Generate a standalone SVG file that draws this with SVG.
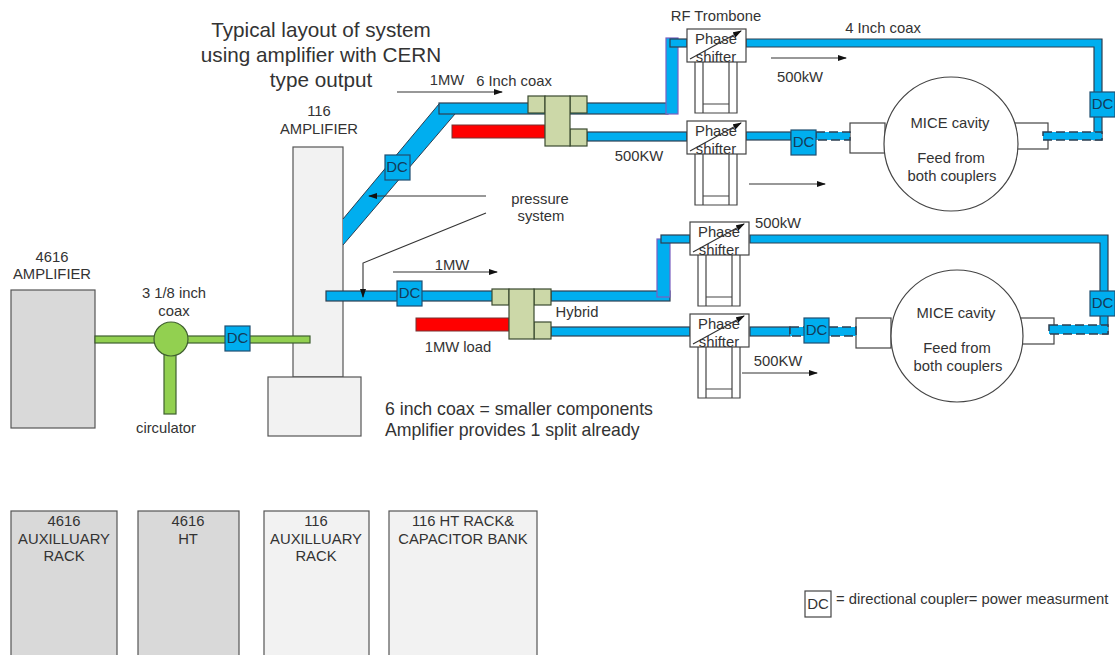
<svg xmlns="http://www.w3.org/2000/svg" xmlns:xlink="http://www.w3.org/1999/xlink" width="1115" height="655" viewBox="0 0 1115 655">
<style>
text{font-family:"Liberation Sans",Arial,sans-serif;font-size:14.800px;fill:#333;text-anchor:middle}
.t{font-size:20.700px}
.l{text-anchor:start}
.box{stroke:#555;stroke-width:1.2}
.d{fill:#d9d9d9}.g{fill:#f2f2f2}
.coax{fill:#00aeef;stroke:#2d3e50;stroke-width:1.2}
.dash{fill:#00aeef;stroke:#2d3e50;stroke-width:1.5;stroke-dasharray:9 4}
.trom{fill:#00aeef;stroke:#7a5fc0;stroke-width:1.2}
.green{fill:#92d050;stroke:#3f5f30;stroke-width:1.2}
.hy{fill:#ccd8a8;stroke:#3a4a30;stroke-width:1.2}
.red{fill:#f00;stroke:#733;stroke-width:1}
.dc{fill:#00aeef;stroke:#1f4e70;stroke-width:1.2}
.w{fill:#fff;stroke:#444;stroke-width:1.2}
.o{fill:none;stroke:#444;stroke-width:1.2}
.a{fill:none;stroke:#333;stroke-width:1.1;marker-end:url(#ah)}
.dct{font-size:15px;fill:#143c5a}
</style>
<defs>
<marker id="ah" markerWidth="9" markerHeight="7" refX="8" refY="3" orient="auto" markerUnits="userSpaceOnUse"><path d="M0 0L9 3L0 6Z" fill="#111"/></marker>
<g id="ps">
<rect class="w" x="0" y="0" width="59" height="33"/>
<text x="29" y="15">Phase</text><text x="29" y="33">shifter</text>
<path d="M3 30L54 2" fill="none" stroke="#333" stroke-width="1.1" marker-end="url(#ah)"/>
<path class="o" d="M8 33V84H50V33M16 33V84M42 33V84M16 75H42"/>
</g>
<g id="dcb"><rect class="dc" width="25" height="25"/><text class="dct" x="12.500" y="17">DC</text></g>
</defs>
<g id="title"><text class="t" x="321" y="37">Typical layout of system</text><text class="t" x="321" y="62">using amplifier with CERN</text><text class="t" x="321" y="87">type output</text></g>
<g id="amp4616"><rect class="box d" x="11" y="290" width="84" height="138"/><text x="52" y="262">4616</text><text x="52" y="279">AMPLIFIER</text></g>
<g id="amp116"><rect class="box g" x="293" y="147" width="50" height="230"/><rect class="box g" x="268" y="377" width="93" height="59"/><text x="319" y="116">116</text><text x="319" y="134">AMPLIFIER</text></g>
<g id="cavity1"><rect class="w" x="850" y="123" width="35" height="30"/><rect class="w" x="1014" y="123" width="34" height="26"/><circle class="w" cx="951" cy="144" r="67"/><text x="950" y="128">MICE cavity</text><text x="951" y="163">Feed from</text><text x="952" y="181">both couplers</text></g>
<g id="cavity2"><rect class="w" x="856" y="318" width="35" height="30"/><rect class="w" x="1020" y="318" width="34" height="26"/><circle class="w" cx="957" cy="336" r="66"/><text x="956" y="318">MICE cavity</text><text x="957" y="353">Feed from</text><text x="958" y="371">both couplers</text></g>
<g id="connectors">
<rect class="green" x="95" y="336" width="215" height="7"/>
<rect class="green" x="164" y="350" width="12" height="64"/>
<polygon points="343,219 439,104 455,114 343,245" fill="#00aeef"/>
<path d="M343 219L439 104M343 245L455 114" stroke="#2d3e50" stroke-width="1" fill="none"/>
<rect class="coax" x="439" y="103" width="229" height="11"/>
<rect class="coax" x="587" y="132" width="100" height="9"/>
<rect class="trom" x="666" y="38" width="12" height="76"/>
<rect class="coax" x="670" y="39" width="17" height="8"/>
<path class="coax" d="M746 39H1102V140H1094V47H746Z"/>
<rect class="coax" x="746" y="132" width="45" height="8"/>
<rect class="dash" x="816" y="132" width="34" height="8"/>
<rect class="dash" x="1043" y="132" width="59" height="8"/>
<rect class="coax" x="326" y="291" width="175" height="10"/>
<rect class="coax" x="551" y="291" width="119" height="10"/>
<rect class="coax" x="551" y="327" width="139" height="9"/>
<rect class="trom" x="657" y="239" width="13" height="58"/>
<rect class="coax" x="661" y="235" width="29" height="8"/>
<path class="coax" d="M750 235H1108V334H1100V243H750Z"/>
<rect class="coax" x="750" y="327" width="40" height="9"/>
<rect class="dash" x="790" y="327" width="66" height="9"/>
<rect class="dash" x="1049" y="325" width="59" height="9"/>
<path class="a" d="M397 92H502"/><path class="a" d="M771 58H846"/><path class="a" d="M749 184H825"/>
<path class="a" d="M486 196H369"/><path class="a" d="M486 213L363 263V297"/>
<path class="a" d="M393 272H497"/><path class="a" d="M742 373H817"/>
</g>
<g id="circulator"><circle class="green" cx="171" cy="339" r="17"/><text x="166" y="433">circulator</text><text x="174" y="298">3 1/8 inch</text><text x="174" y="316">coax</text></g>
<g id="hybrid1"><rect class="hy" x="528" y="96" width="17" height="17"/><rect class="hy" x="570" y="96" width="17" height="17"/><rect class="hy" x="570" y="129" width="17" height="17"/><rect class="red" x="452" y="125" width="93" height="13"/><rect class="hy" x="545" y="96" width="25" height="50"/></g>
<g id="hybrid2"><rect class="hy" x="492" y="289" width="17" height="16"/><rect class="hy" x="534" y="289" width="17" height="16"/><rect class="hy" x="534" y="322" width="17" height="17"/><rect class="red" x="416" y="318" width="93" height="13"/><rect class="hy" x="509" y="289" width="25" height="50"/></g>
<g id="ps1"><use xlink:href="#ps" href="#ps" x="687" y="29"/></g>
<g id="ps2"><use xlink:href="#ps" href="#ps" x="687" y="121"/></g>
<g id="ps3"><use xlink:href="#ps" href="#ps" x="690" y="222"/></g>
<g id="ps4"><use xlink:href="#ps" href="#ps" x="690" y="314"/></g>
<g id="dc1"><rect class="dc" x="385" y="155" width="25" height="25"/><text class="dct" x="397" y="172">DC</text></g>
<g id="dc2"><use xlink:href="#dcb" href="#dcb" x="225" y="326"/></g>
<g id="dc3"><use xlink:href="#dcb" href="#dcb" x="397" y="281"/></g>
<g id="dc4"><use xlink:href="#dcb" href="#dcb" x="791" y="130"/></g>
<g id="dc5"><use xlink:href="#dcb" href="#dcb" x="804" y="318"/></g>
<g id="dc6"><use xlink:href="#dcb" href="#dcb" x="1090" y="92"/></g>
<g id="dc7"><use xlink:href="#dcb" href="#dcb" x="1090" y="291"/></g>
<g id="labels">
<text x="716" y="21">RF Trombone</text><text x="883" y="33">4 Inch coax</text><text x="800" y="82">500kW</text>
<text x="447" y="85">1MW</text><text x="514" y="86">6 Inch coax</text><text x="639" y="161">500KW</text>
<text x="540" y="204">pressure</text><text x="541" y="221">system</text>
<text x="778" y="228">500kW</text><text x="452" y="270">1MW</text><text x="577" y="317">Hybrid</text><text x="458" y="352">1MW load</text><text x="778" y="366">500KW</text>
<text class="l" style="font-size:17.700px" x="385" y="415">6 inch coax = smaller components</text>
<text class="l" style="font-size:17.700px" x="385" y="436">Amplifier provides 1 split already</text>
</g>
<g id="rack1"><rect class="box d" x="11" y="511" width="106" height="150"/><text x="64" y="526">4616</text><text x="64" y="544">AUXILLUARY</text><text x="64" y="561">RACK</text></g>
<g id="rack2"><rect class="box d" x="138" y="511" width="101" height="150"/><text x="188" y="526">4616</text><text x="188" y="544">HT</text></g>
<g id="rack3"><rect class="box g" x="264" y="511" width="105" height="150"/><text x="316" y="526">116</text><text x="316" y="544">AUXILLUARY</text><text x="316" y="561">RACK</text></g>
<g id="rack4"><rect class="box g" x="389" y="511" width="148" height="150"/><text x="463" y="526">116 HT RACK&amp;</text><text x="463" y="544">CAPACITOR BANK</text></g>
<g id="legend"><rect class="w" x="805" y="591" width="26" height="26"/><text class="dct" x="818" y="609" style="fill:#333">DC</text><text class="l" x="836" y="604" style="font-size:14.800px">= directional coupler= power measurment</text></g>
</svg>
